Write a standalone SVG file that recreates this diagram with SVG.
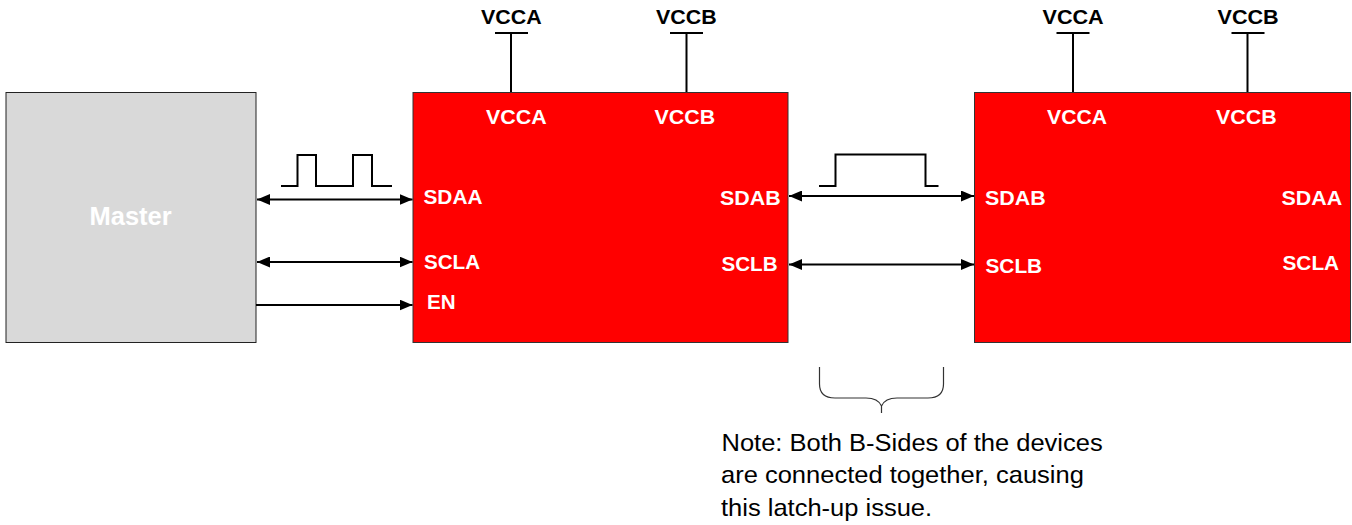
<svg xmlns="http://www.w3.org/2000/svg" width="1352" height="525" viewBox="0 0 1352 525">
<style>
.lbl{font-family:"Liberation Sans",Arial,sans-serif;font-weight:bold;font-size:20px;}
.w{fill:#ffffff;}
.k{fill:#000000;}
.note{font-family:"Liberation Sans",Arial,sans-serif;font-size:24px;fill:#000000;}
.wire{stroke:#000;stroke-width:2;fill:none;}
.dev{fill:#ff0000;stroke:#333;stroke-width:1;}
</style>
<defs>
<marker id="ah" viewBox="0 0 13 11" refX="13" refY="5.5" markerWidth="13" markerHeight="11" markerUnits="userSpaceOnUse" orient="auto-start-reverse">
<path d="M0,0 L13,5.5 L0,11 Z" fill="#000"/>
</marker>
</defs>
<rect width="1352" height="525" fill="#ffffff"/>

<g id="master">
<rect x="6" y="92.5" width="250" height="250" fill="#d9d9d9" stroke="#222" stroke-width="1"/>
<text class="lbl w" transform="translate(89.5,224.5) scale(1.02,1)" style="font-size:25px">Master</text>
</g>

<g id="device1">
<rect class="dev" x="413" y="92.5" width="375" height="250"/>
<text class="lbl w" transform="translate(486,124) scale(1.07,1)">VCCA</text>
<text class="lbl w" transform="translate(654.5,124) scale(1.07,1)">VCCB</text>
<text class="lbl w" transform="translate(423.5,203.5) scale(1.04,1)">SDAA</text>
<text class="lbl w" transform="translate(424,269) scale(1.03,1)">SCLA</text>
<text class="lbl w" transform="translate(427,308.5) scale(1.03,1)">EN</text>
<text class="lbl w" transform="translate(720,204.5) scale(1.07,1)">SDAB</text>
<text class="lbl w" transform="translate(721.5,270.5) scale(1.03,1)">SCLB</text>
</g>

<g id="device2">
<rect class="dev" x="974.5" y="92.5" width="376" height="250"/>
<text class="lbl w" transform="translate(1047,124) scale(1.06,1)">VCCA</text>
<text class="lbl w" transform="translate(1216,124) scale(1.07,1)">VCCB</text>
<text class="lbl w" transform="translate(985,204.5) scale(1.07,1)">SDAB</text>
<text class="lbl w" transform="translate(985.5,273) scale(1.04,1)">SCLB</text>
<text class="lbl w" transform="translate(1281.5,204.5) scale(1.07,1)">SDAA</text>
<text class="lbl w" transform="translate(1282.5,270) scale(1.04,1)">SCLA</text>
</g>

<g id="supplies">
<path class="wire" d="M495,33 H528 M511,33 V92 M670,33 H703 M686.5,33 V92 M1056.5,33 H1089.5 M1073,33 V92 M1231.5,33 H1264.5 M1247.5,33 V92"/>
<text class="lbl k" transform="translate(481,24) scale(1.07,1)">VCCA</text>
<text class="lbl k" transform="translate(656,24) scale(1.07,1)">VCCB</text>
<text class="lbl k" transform="translate(1042.5,24) scale(1.08,1)">VCCA</text>
<text class="lbl k" transform="translate(1217.5,24) scale(1.08,1)">VCCB</text>
</g>

<g id="connectors">
<line class="wire" x1="257" y1="199.5" x2="412.5" y2="199.5" marker-start="url(#ah)" marker-end="url(#ah)"/>
<line class="wire" x1="257" y1="262" x2="412.5" y2="262" marker-start="url(#ah)" marker-end="url(#ah)"/>
<line class="wire" x1="256" y1="305" x2="412.5" y2="305" marker-end="url(#ah)"/>
<line class="wire" x1="789" y1="196" x2="974" y2="196" marker-start="url(#ah)" marker-end="url(#ah)"/>
<line class="wire" x1="789" y1="264.5" x2="974" y2="264.5" marker-start="url(#ah)" marker-end="url(#ah)"/>
</g>

<g id="waveforms">
<path class="wire" stroke-width="2.5" d="M281,186 H297.5 V155 H316 V186 H353 V155 H372 V186 H392"/>
<path class="wire" stroke-width="2.5" d="M819,186 H835.5 V154.5 H925.5 V186 H938.5"/>
</g>

<g id="brace">
<path d="M819.5,367 V384 Q819.5,398 835,398 H866 Q878,398 881.5,406 Q885,398 897,398 H928 Q943.5,398 943.5,384 V367 M881.5,406 V413" fill="none" stroke="#333" stroke-width="1.2"/>
</g>

<g id="note">
<text class="note" transform="translate(721.5,451) scale(1.063,1)">Note: Both B-Sides of the devices</text>
<text class="note" transform="translate(721,483) scale(1.063,1)">are connected together, causing</text>
<text class="note" transform="translate(721,516) scale(1.063,1)">this latch-up issue.</text>
</g>
</svg>
